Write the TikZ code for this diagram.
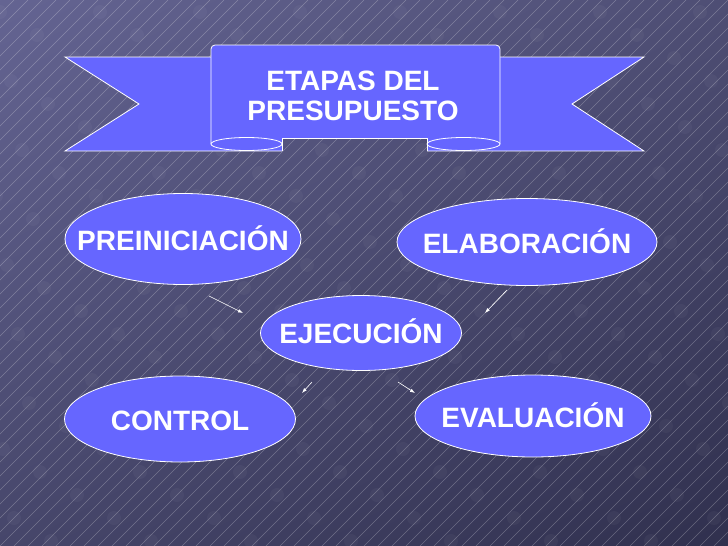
\documentclass[tikz,border=0pt]{standalone}
\usepackage{fontspec}
\setmainfont{Liberation Sans}
\usetikzlibrary{arrows.meta,shapes.geometric,shadings}

\definecolor{bgtl}{RGB}{100,100,146}
\definecolor{bgtr}{RGB}{78,78,116}
\definecolor{bgbl}{RGB}{70,70,106}
\definecolor{bgbr}{RGB}{48,48,78}
\definecolor{cintaazul}{RGB}{102,102,255}

\begin{document}
\begin{tikzpicture}[x=1pt,y=-1pt,
    hatch/.style={white,opacity=0.26,line width=0.5pt},
    mota/.style={white,opacity=0.035},
    cinta/.style={fill=cintaazul,draw=white,line width=0.8pt},
    borde/.style={white,line width=0.8pt},
    letra/.style={text=white,font=\fontsize{28}{30}\selectfont\bfseries,inner sep=0pt},
    txt/.style={letra,text height=20pt,text depth=0pt},
    etapa/.style={ellipse,draw=white,line width=0.8pt,fill=cintaazul,inner sep=0pt},
    flecha/.style={white,line width=0.6pt,-{Latex[length=5pt,width=3.5pt]}}]
    %\draw[help lines,step=50] (0,0) grid (728,546);
    \useasboundingbox (0,0) rectangle (728,546);

    % fondo
    \shade[upper left=bgtl,upper right=bgtr,lower left=bgbl,lower right=bgbr] (0,0) rectangle (728,546);
    \begin{scope}
    	\clip (0,0) rectangle (728,546);
    	\foreach \i in {-546,-532,...,728}
    		\draw[hatch] (\i,546) -- ++(546,-546);
    	\foreach \r in {0,...,23}
    		\foreach \k in {-1,...,7}{
    			\pgfmathsetmacro{\mx}{100*\k+mod(37*\r,100)}
    			\fill[mota] (\mx,12+23*\r) circle (7);
    		}
    \end{scope}

    % cinta
    \fill[cintaazul] (211,57) -- (65,57) -- (139,104) -- (65,151) -- (282,151) -- (282,57) -- cycle;
    \draw[borde] (211,57) -- (65,57) -- (139,104) -- (65,151) -- (282,151);
    \fill[cintaazul] (500,57) -- (644,57) -- (572,104) -- (644,151) -- (427,151) -- (427,57) -- cycle;
    \draw[borde] (500,57) -- (644,57) -- (572,104) -- (644,151) -- (427,151);
    \fill[cintaazul] (211,144) -- (211,49) arc[start angle=180,end angle=270,radius=4] -- (496,45)
    	arc[start angle=270,end angle=360,radius=4] -- (500,144) -- (427,144) -- (427,138) -- (282,138) -- (282,144) -- cycle;
    \draw[borde] (211,144) -- (211,49) arc[start angle=180,end angle=270,radius=4] -- (496,45)
    	arc[start angle=270,end angle=360,radius=4] -- (500,144);
    \draw[borde] (282,138) -- (427,138);
    \filldraw[cinta] (246.5,144) ellipse [x radius=35.5,y radius=6.5];
    \filldraw[cinta] (463.5,144) ellipse [x radius=36.5,y radius=6.5];
    \draw[borde] (282,138) -- (282,151);
    \draw[borde] (427,138) -- (427,151);
    \node[letra,align=center] (titulo) at (353,96) {ETAPAS DEL\\PRESUPUESTO};

    % etapas
    \node[etapa,minimum width=236pt,minimum height=91pt,label={[txt,yshift=-1.5pt]center:PREINICIACIÓN}] (pre) at (183,239) {};
    \node[etapa,minimum width=260pt,minimum height=87pt,label={[txt,yshift=-1.5pt]center:ELABORACIÓN}] (ela) at (527,242) {};
    \node[etapa,minimum width=201pt,minimum height=75pt,label={[txt]center:EJECUCIÓN}] (eje) at (361,333) {};
    \node[etapa,minimum width=231pt,minimum height=86pt,label={[txt,yshift=-1pt]center:CONTROL}] (con) at (180,419) {};
    \node[etapa,minimum width=236pt,minimum height=82pt,label={[txt,yshift=-1.5pt]center:EVALUACIÓN}] (eva) at (533,416) {};

    % flechas
    \coordinate (preout) at (209,296);
    \coordinate (ejeinA) at (243,313);
    \coordinate (elaout) at (507,290);
    \coordinate (ejeinB) at (485,313);
    \coordinate (ejeoutA) at (312,382);
    \coordinate (conin) at (302,393);
    \coordinate (ejeoutB) at (398,382);
    \coordinate (evain) at (415,393);
    \draw[flecha] (preout) -- (ejeinA);
    \draw[flecha] (elaout) -- (ejeinB);
    \draw[flecha] (ejeoutA) -- (conin);
    \draw[flecha] (ejeoutB) -- (evain);

\end{tikzpicture}
\end{document}
